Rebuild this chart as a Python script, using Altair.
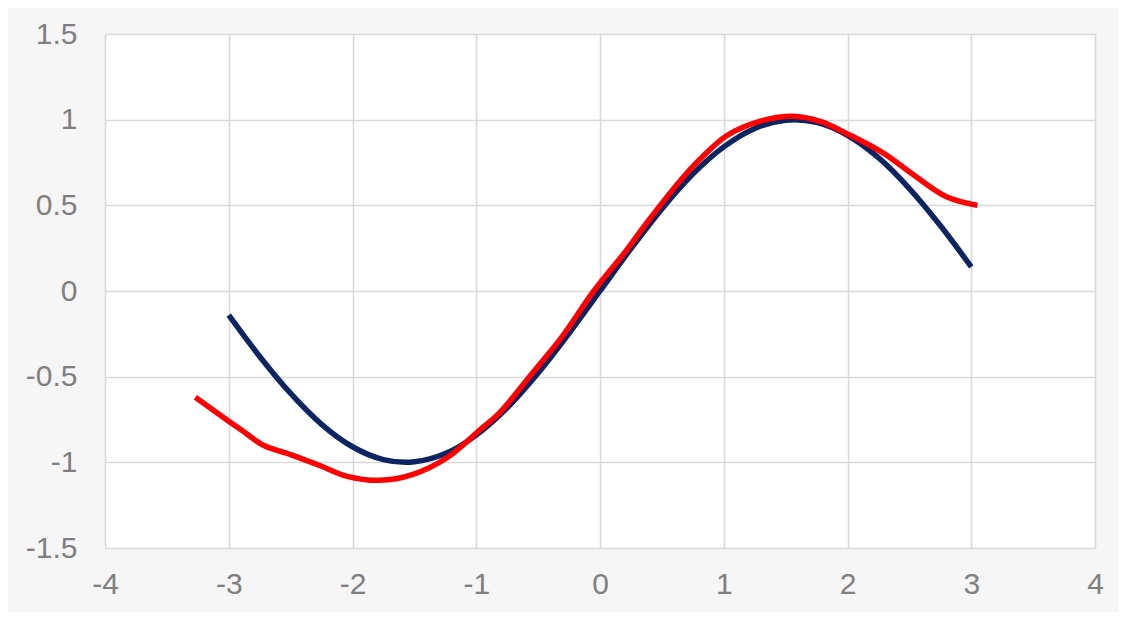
import altair as alt
import pandas as pd

# Navy series (smooth sine-like curve)
navy_x = [-3.0, -2.75, -2.5, -2.25, -2.0, -1.75, -1.57, -1.5, -1.25, -1.0, -0.75, -0.5, -0.25, 0.0,
          0.25, 0.5, 0.75, 1.0, 1.25, 1.5, 1.57, 1.75, 2.0, 2.25, 2.5, 2.75, 3.0]
navy_y = [-0.141, -0.382, -0.598, -0.778, -0.909, -0.984, -1.0, -0.997, -0.949, -0.841, -0.682, -0.479, -0.247, 0.0,
          0.247, 0.479, 0.682, 0.841, 0.949, 0.997, 1.0, 0.984, 0.909, 0.778, 0.598, 0.382, 0.141]

# Red series (approximation)
red_x = [-3.27, -3.0, -2.9, -2.72, -2.5, -2.26, -2.05, -1.78, -1.51, -1.24, -0.97, -0.81, -0.57, -0.3,
         -0.05, 0.2, 0.38, 0.65, 0.81, 1.02, 1.29, 1.56, 1.78, 2.02, 2.29, 2.53, 2.8, 3.05]
red_y = [-0.62, -0.76, -0.81, -0.90, -0.955, -1.02, -1.08, -1.105, -1.07, -0.975, -0.81, -0.71, -0.50, -0.26,
         0.0, 0.225, 0.40, 0.645, 0.77, 0.905, 0.99, 1.02, 0.99, 0.91, 0.805, 0.68, 0.55, 0.50]

x_ticks = [-4, -3, -2, -1, 0, 1, 2, 3, 4]
y_ticks = [-1.5, -1, -0.5, 0, 0.5, 1, 1.5]

navy_df = pd.DataFrame({"x": navy_x, "y": navy_y})
red_df = pd.DataFrame({"x": red_x, "y": red_y})

common = dict(title=None, grid=True, domain=False, ticks=False, labelFontSize=30,
              labelColor="#7f7f7f", labelFont="Liberation Sans", gridColor="#d9d9d9",
              gridWidth=1.6, labelExpr="datum.value + ''", labelFlush=False,
              labelOverlap=False, labelBound=False)

xenc = alt.X("x:Q", scale=alt.Scale(domain=[-4, 4], nice=False, zero=False),
             axis=alt.Axis(values=x_ticks, labelPadding=21, **common))
yenc = alt.Y("y:Q", scale=alt.Scale(domain=[-1.5, 1.5], nice=False, zero=False),
             axis=alt.Axis(values=y_ticks, labelPadding=28, **common))

navy = alt.Chart(navy_df).mark_line(color="#0c2461", strokeWidth=5.5, interpolate="monotone").encode(
    x=xenc, y=yenc, order="x:Q")
red = alt.Chart(red_df).mark_line(color="#ff0000", strokeWidth=5.5, interpolate="catmull-rom").encode(
    x="x:Q", y="y:Q", order="x:Q")

chart = alt.layer(navy, red).properties(
    width=990, height=514,
    autosize=alt.AutoSizeParams(type="none"),
    padding={"left": 97, "top": 26, "right": 23, "bottom": 64},
    background="#f6f6f6",
).configure_view(stroke=None, fill="#ffffff")

chart.save("out.html", embed_options={"renderer": "svg", "actions": False})
